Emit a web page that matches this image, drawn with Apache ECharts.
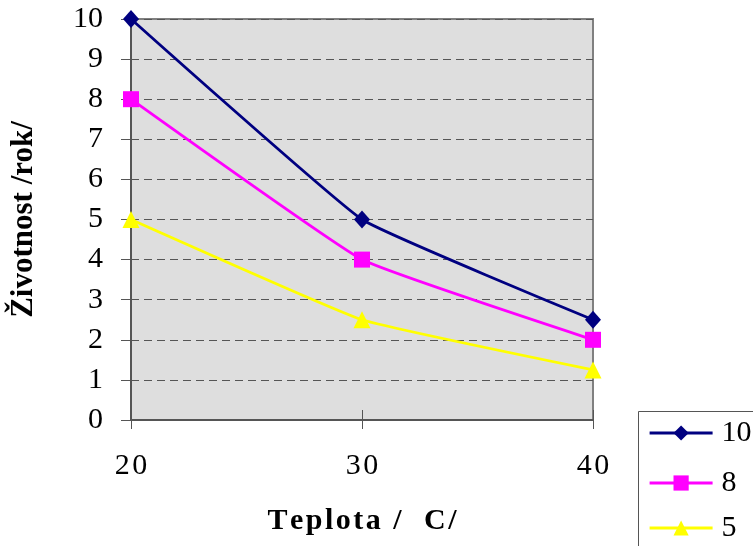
<!DOCTYPE html>
<html>
<head>
<meta charset="utf-8">
<script src="https://cdn.jsdelivr.net/npm/echarts@6/dist/echarts.min.js"></script>
<style>
html, body { margin: 0; padding: 0; background: #fff; }
#chart { width: 753px; height: 546px; }
</style>
</head>
<body>
<div id="chart"></div>
<script>
// Temperature (°C) on the x axis
const teploty = [20, 30, 40];
// Lifetime in years for each series
const rada10 = [10, 5, 2.5];
const rada8 = [8, 4, 2];
const rada5 = [5, 2.5, 1.25];
const nazvyRad = ['10', '8', '5'];
const yTicks = [0, 1, 2, 3, 4, 5, 6, 7, 8, 9, 10];

const serif = 'Liberation Serif';
const HAIR = '\u200A';
const spaced = s => s.split('').join(HAIR);

function pary(xs, ys) { return xs.map((x, i) => [x, ys[i]]); }

const chart = echarts.init(document.getElementById('chart'), null, { renderer: 'canvas' });

function lineSeries(name, data, color, symbol, size) {
  return {
    name: name, type: 'line', data: data, smooth: 0.1,
    symbol: symbol, symbolSize: size,
    lineStyle: { color: color, width: 2.8 },
    itemStyle: { color: color },
    emphasis: { disabled: true },
    z: 5
  };
}

// one legend block per series so each row sits at its own height
const legendRowTops = [418, 468, 513];
const legends = nazvyRad.map((n, i) => ({
  orient: 'vertical', left: 648, top: legendRowTops[i],
  padding: 0, itemWidth: 63, itemHeight: 19, z: 10,
  lineStyle: { width: 3.2 },
  textStyle: { fontFamily: serif, fontSize: 30, color: '#000', padding: [0, 0, 0, 4] },
  data: [n]
}));

chart.setOption({
  animation: false,
  backgroundColor: '#ffffff',
  grid: {
    left: 131, right: 160, top: 19, bottom: 126,
    show: true, backgroundColor: '#dedede', borderColor: '#808080', borderWidth: 2
  },
  graphic: [{
    // legend frame, running off the right and bottom edges
    type: 'rect', left: 638, top: 411, z: 1,
    shape: { width: 200, height: 200 },
    style: { fill: '#ffffff', stroke: '#555', lineWidth: 1 }
  }],
  legend: legends,
  xAxis: [{
    type: 'value', min: teploty[0], max: teploty[teploty.length - 1], interval: 10,
    name: spaced('Teplota') + HAIR + ' /  C/'.split('').join(HAIR),
    nameLocation: 'middle', nameGap: 86,
    nameTextStyle: { fontFamily: serif, fontSize: 30, fontWeight: 'bold', color: '#000' },
    axisLine: { show: true, onZero: false, lineStyle: { color: '#555', width: 2 } },
    axisTick: { show: true, length: 9, lineStyle: { color: '#555', width: 1 } },
    axisLabel: { fontFamily: serif, fontSize: 30, color: '#000', margin: 31,
      formatter: v => spaced(String(v)) },
    splitLine: { show: false }
  }, {
    // inner half of the crossing tick marks
    type: 'value', position: 'bottom', min: teploty[0], max: teploty[teploty.length - 1], interval: 10,
    axisLine: { show: false },
    axisTick: { show: true, inside: true, length: 10, lineStyle: { color: '#555', width: 1 } },
    axisLabel: { show: false }, splitLine: { show: false }
  }],
  yAxis: {
    type: 'value', min: yTicks[0], max: yTicks[yTicks.length - 1], interval: 1,
    name: 'Životnost /rok/',
    nameLocation: 'middle', nameGap: 92,
    nameTextStyle: { fontFamily: serif, fontSize: 31, fontWeight: 'bold', color: '#000' },
    axisLine: { show: true, lineStyle: { color: '#555', width: 2 } },
    axisTick: { show: true, length: 10, lineStyle: { color: '#555', width: 1 } },
    axisLabel: { fontFamily: serif, fontSize: 30, color: '#000', margin: 28 },
    splitLine: { show: true, lineStyle: { color: '#555', width: 1, type: [8, 5] } }
  },
  series: [
    lineSeries(nazvyRad[0], pary(teploty, rada10), '#000080', 'diamond', [16, 18]),
    lineSeries(nazvyRad[1], pary(teploty, rada8), '#ff00ff', 'rect', 16),
    lineSeries(nazvyRad[2], pary(teploty, rada5), '#ffff00', 'triangle', 17)
  ]
});
</script>
</body>
</html>
